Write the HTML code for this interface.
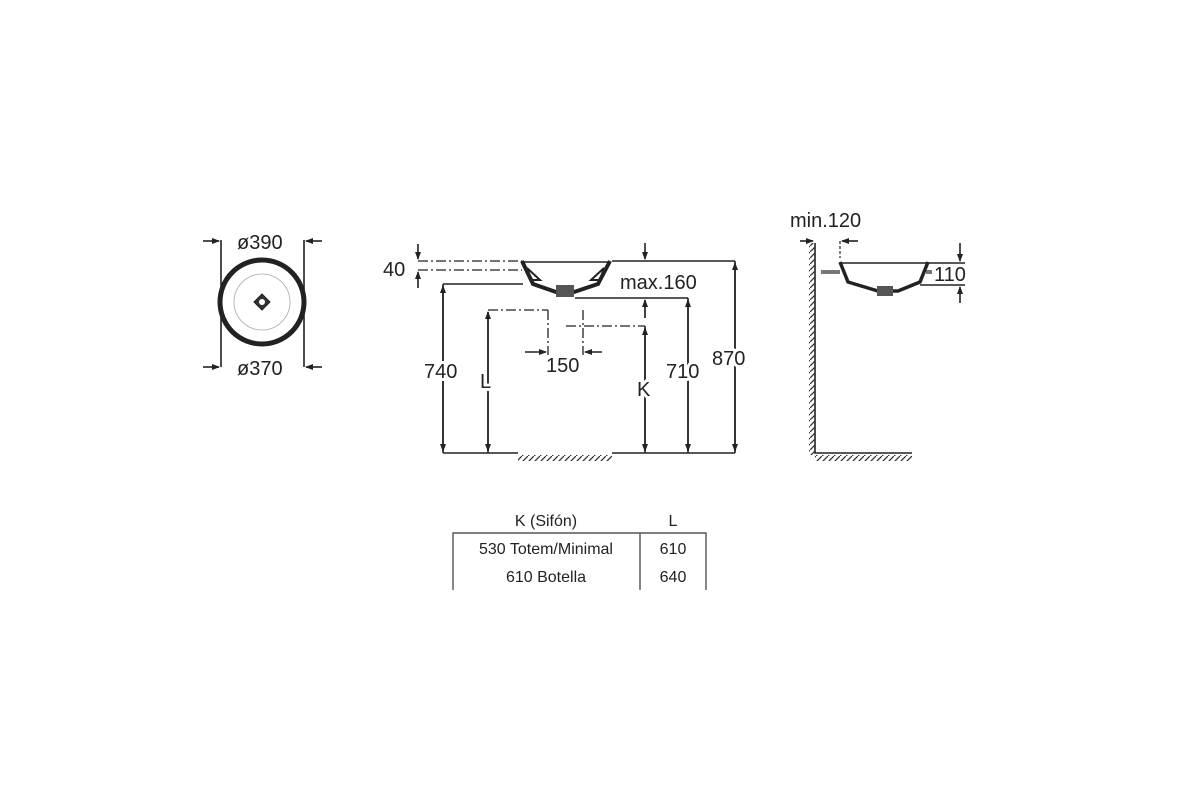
<!DOCTYPE html>
<html><head><meta charset="utf-8"><style>
html,body{margin:0;padding:0;background:#fff;width:1200px;height:800px;overflow:hidden}
text{font-family:"Liberation Sans",sans-serif;fill:#222}
.lb text{stroke:#fff;stroke-width:6px;paint-order:stroke;stroke-linejoin:round}
</style></head><body>
<svg width="1200" height="800" viewBox="0 0 1200 800" xmlns="http://www.w3.org/2000/svg">
<defs>
<marker id="a" markerWidth="8" markerHeight="8" refX="7" refY="4" orient="auto" markerUnits="userSpaceOnUse"><path d="M0,1 L8,4 L0,7z" fill="#222"/></marker>
<pattern id="h" width="6" height="6" patternUnits="userSpaceOnUse"><path d="M0,6 L6,0" stroke="#333" stroke-width="1.3"/></pattern>
</defs>
<g stroke="#222" fill="none" stroke-width="1.6">
<circle cx="262" cy="302" r="42" stroke-width="5"/>
<circle cx="262" cy="302" r="28" stroke-width="0.8" stroke="#aaa"/>
<path d="M262,294 L270,302 L262,310 L254,302z" fill="#333" stroke-width="1"/>
<circle cx="262" cy="302" r="3" fill="#fff" stroke="none"/>
<path d="M221,240 V367 M304,240 V367"/>
<path d="M203,241 H219" marker-end="url(#a)"/><path d="M322,241 H306" marker-end="url(#a)"/>
<path d="M203,367 H219" marker-end="url(#a)"/><path d="M322,367 H306" marker-end="url(#a)"/>
<path d="M418,261 H522 M418,270 H522 M488,310 H548 M566,326 H645 M548,310 V355 M583,310 V355" stroke-dasharray="10,3,2,3" stroke-width="1.3"/>
<path d="M612,261 H735 M443,284 H523 M575,298 H688 M443,453 H518 M612,453 H735"/>
<path d="M522,261 L533,284 L556,292 L574,292 L598,284 L610,261" stroke-width="4"/>
<path d="M522,262 H610" stroke-width="1.5"/>
<rect x="556" y="285" width="18" height="12" fill="#555" stroke="none"/>
<path d="M527,268 L531,280 L540,280z M604,268 L600,280 L591,280z" stroke-width="2"/>
<path d="M418,244 V259" marker-end="url(#a)"/><path d="M418,288 V272" marker-end="url(#a)"/>
<path d="M443,453 V286" marker-end="url(#a)"/><path d="M443,284 V451" marker-end="url(#a)"/>
<path d="M488,453 V312" marker-end="url(#a)"/><path d="M488,312 V451" marker-end="url(#a)"/>
<path d="M645,453 V328" marker-end="url(#a)"/><path d="M645,326 V451" marker-end="url(#a)"/>
<path d="M645,300 V318" stroke-width="1.3"/><path d="M645,318 V300" marker-end="url(#a)"/>
<path d="M645,243 V259" marker-end="url(#a)"/>
<path d="M688,453 V300" marker-end="url(#a)"/><path d="M688,298 V451" marker-end="url(#a)"/>
<path d="M735,453 V263" marker-end="url(#a)"/><path d="M735,261 V451" marker-end="url(#a)"/>
<path d="M525,352 H546" marker-end="url(#a)"/><path d="M602,352 H585" marker-end="url(#a)"/>
<rect x="518" y="455" width="94" height="6" fill="url(#h)" stroke="none"/>
<path d="M815,243 V453 H912"/>
<rect x="809" y="243" width="6" height="212" fill="url(#h)" stroke="none"/>
<rect x="815" y="455" width="97" height="6" fill="url(#h)" stroke="none"/>
<path d="M821,272 H840 M926,272 H932" stroke="#777" stroke-width="4"/>
<path d="M840,262 L848,282 L878,291 L898,291 L920,282 L928,262" stroke-width="3.5"/>
<path d="M840,263 H928 M928,263 H965 M920,285 H965"/>
<rect x="877" y="286" width="16" height="10" fill="#555" stroke="none"/>
<path d="M840,241 V258" stroke-dasharray="3,2" stroke-width="1.2"/>
<path d="M800,241 H813" marker-end="url(#a)"/><path d="M858,241 H842" marker-end="url(#a)"/>
<path d="M960,243 V261" marker-end="url(#a)"/><path d="M960,303 V287" marker-end="url(#a)"/>
<path d="M453,590 V533 H706 V590 M640,533 V590" stroke="#555" stroke-width="1.4"/>
</g>
<g font-size="20" class="lb">
<text x="237" y="249">ø390</text>
<text x="237" y="375">ø370</text>
<text x="383" y="276">40</text>
<text x="620" y="289">max.160</text>
<text x="424" y="378">740</text>
<text x="480" y="388">L</text>
<text x="546" y="372">150</text>
<text x="637" y="396">K</text>
<text x="666" y="378">710</text>
<text x="712" y="365">870</text>
<text x="790" y="227">min.120</text>
<text x="934" y="281">110</text>
</g>
<g font-size="16" fill="#333">
<text x="546" y="526" text-anchor="middle">K (Sifón)</text>
<text x="673" y="526" text-anchor="middle">L</text>
<text x="546" y="554" text-anchor="middle">530 Totem/Minimal</text>
<text x="673" y="554" text-anchor="middle">610</text>
<text x="546" y="582" text-anchor="middle">610 Botella</text>
<text x="673" y="582" text-anchor="middle">640</text>
</g>
</svg>
</body></html>
